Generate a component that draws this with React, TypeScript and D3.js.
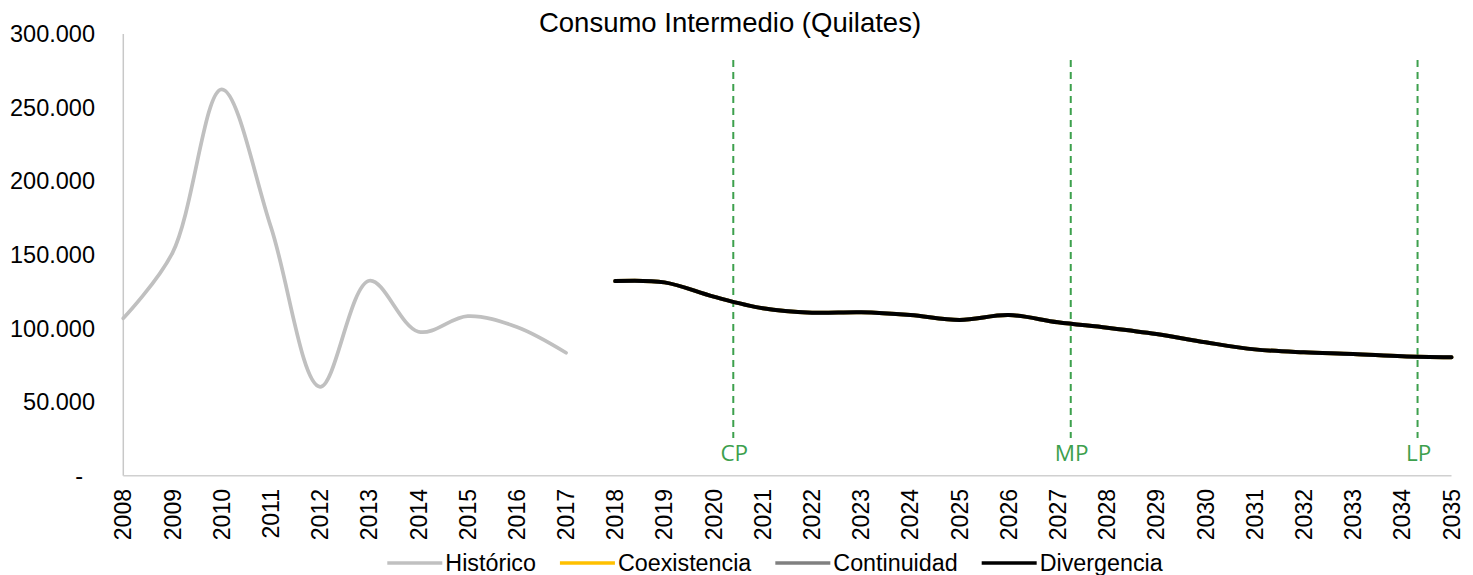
import React, { useEffect, useRef } from "react";
import * as d3 from "d3";

const years = d3.range(2008, 2036);
const yTicks = [0, 50000, 100000, 150000, 200000, 250000, 300000];

// Histórico 2008-2017
const historico = [106900, 151400, 262400, 169000, 60400, 132400, 97800, 108400, 101000, 83500];

// escenarios 2018-2035
const coexistencia = [132200, 131300, 121600, 113700, 110700, 111000, 109100, 105800, 109100, 104200, 100500, 96200, 90600, 85800, 83800, 82700, 81100, 80400];
const continuidad = [132200, 131300, 121600, 113700, 110700, 111000, 109100, 105800, 109100, 104200, 100500, 96200, 90600, 85800, 83800, 82700, 81100, 80400];
const divergencia = [132200, 131300, 121600, 113700, 110700, 111000, 109100, 105800, 109100, 104200, 100500, 96200, 90600, 85800, 83800, 82700, 81100, 80400];

const horizonLabels = ["CP", "MP", "LP"];
const horizonYears = [2020.4, 2027.26, 2034.31];

const legendNames = ["Histórico", "Coexistencia", "Continuidad", "Divergencia"];
const legendColors = ["#C0C0C0", "#FFC000", "#808080", "#000000"];

const W = 1473;
const H = 575;
const FONT = "'Liberation Sans', Arial, sans-serif";

const App = () => {
  const ref = useRef<SVGSVGElement>(null);

  useEffect(() => {
    const svg = d3.select(ref.current);
    svg.selectAll("*").remove();

    const x = d3.scaleLinear().domain([2008, 2035]).range([123.3, 1451.5]);
    const y = d3.scaleLinear().domain([0, 300000]).range([475.7, 34]);

    const fmt = d3.formatLocale({ decimal: ",", thousands: ".", grouping: [3], currency: ["", ""] }).format(",.0f");

    // title
    svg.append("text")
      .attr("x", 730).attr("y", 32)
      .attr("text-anchor", "middle")
      .style("font-family", FONT).style("font-size", "27.5px")
      .text("Consumo Intermedio (Quilates)");

    // axes
    svg.append("line")
      .attr("x1", x(2008)).attr("x2", x(2008))
      .attr("y1", y(300000)).attr("y2", y(0))
      .attr("stroke", "#C8C8C8").attr("stroke-width", 1.5);
    svg.append("line")
      .attr("x1", x(2008)).attr("x2", x(2035))
      .attr("y1", y(0)).attr("y2", y(0))
      .attr("stroke", "#D0D0D0").attr("stroke-width", 1.5);

    svg.append("g").selectAll("text")
      .data(yTicks)
      .join("text")
      .attr("x", (d) => (d === 0 ? 83 : 95))
      .attr("y", (d) => y(d))
      .attr("dy", "0.35em")
      .attr("text-anchor", "end")
      .style("font-family", FONT).style("font-size", "23.5px")
      .text((d) => (d === 0 ? "-" : fmt(d)));

    svg.append("g").selectAll("text")
      .data(years)
      .join("text")
      .attr("transform", (d) => `translate(${x(d)},489) rotate(-90)`)
      .attr("dy", "0.35em")
      .attr("text-anchor", "end")
      .style("font-family", FONT).style("font-size", "23px")
      .text((d) => d);

    // horizon markers
    const hz = svg.append("g");
    horizonYears.forEach((yr, i) => {
      hz.append("line")
        .attr("x1", x(yr)).attr("x2", x(yr))
        .attr("y1", 60).attr("y2", 438)
        .attr("stroke", "#3DA04D").attr("stroke-width", 2)
        .attr("stroke-dasharray", "7,5");
      hz.append("text")
        .attr("x", x(yr) + 1).attr("y", 461)
        .attr("text-anchor", "middle")
        .attr("fill", "#3DA04D")
        .style("font-family", "'Open Sans', 'Noto Sans', sans-serif").style("font-size", "22.5px")
        .text(horizonLabels[i]);
    });

    const smooth = d3.line().curve(d3.curveCatmullRom.alpha(0.5));

    const histPts = historico.map((v, i) => [x(years[i]), y(v)] as [number, number]);
    svg.append("path")
      .attr("d", smooth(histPts))
      .attr("fill", "none").attr("stroke", legendColors[0]).attr("stroke-width", 3.75)
      .attr("stroke-linecap", "round");

    [coexistencia, continuidad, divergencia].forEach((s, k) => {
      const pts = s.map((v, i) => [x(years[i + 10]), y(v)] as [number, number]);
      svg.append("path")
        .attr("d", smooth(pts))
        .attr("fill", "none").attr("stroke", legendColors[k + 1]).attr("stroke-width", 4)
        .attr("stroke-linecap", "round");
    });

    // legend
    const lg = svg.append("g");
    const items = legendNames.map((name, i) => {
      const g = lg.append("g");
      g.append("line")
        .attr("x1", 0).attr("x2", 55).attr("y1", 0).attr("y2", 0)
        .attr("stroke", legendColors[i]).attr("stroke-width", 3.5);
      const t = g.append("text")
        .attr("x", 58).attr("y", 0).attr("dy", "0.35em")
        .style("font-family", FONT).style("font-size", "23.3px")
        .text(name);
      const w = 58 + (t.node() as SVGTextElement).getComputedTextLength();
      return { g, w };
    });
    const gap = 24;
    const total = d3.sum(items, (d) => d.w) + gap * (items.length - 1);
    let cx = 775 - total / 2;
    items.forEach((it) => {
      it.g.attr("transform", `translate(${cx},563)`);
      cx += it.w + gap;
    });
  }, []);

  return (
    <svg
      ref={ref}
      width={W}
      height={H}
      style={{ position: "absolute", left: 0, top: 0, background: "#fff" }}
    />
  );
};

export default App;
